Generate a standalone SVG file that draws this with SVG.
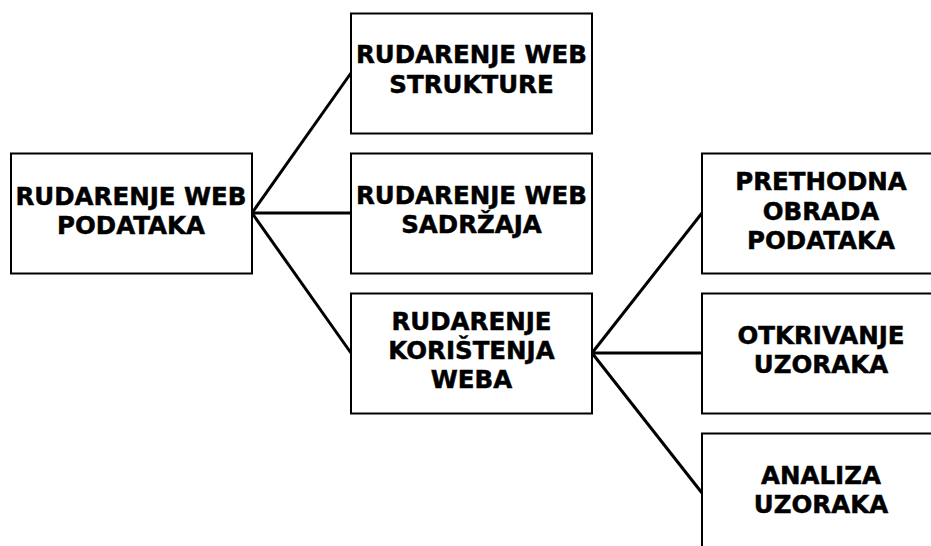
<svg xmlns="http://www.w3.org/2000/svg" width="931" height="546" viewBox="0 0 931 546">
<style>
.box{fill:#fff;stroke:#000;stroke-width:2}
.t{font-family:"DejaVu Sans",Verdana,sans-serif;font-weight:bold;font-size:24.5px;fill:#000;stroke:#000;stroke-width:0.5;text-anchor:middle}
.c{stroke:#000;stroke-width:3;fill:none}
</style>
<rect width="931" height="546" fill="#fff"/>
<g id="connectors">
<line class="c" x1="252" y1="213" x2="351" y2="73"/>
<line class="c" x1="252" y1="213" x2="351" y2="213"/>
<line class="c" x1="252" y1="213" x2="351" y2="353"/>
<line class="c" x1="592" y1="353" x2="702" y2="213"/>
<line class="c" x1="592" y1="353" x2="702" y2="353"/>
<line class="c" x1="592" y1="353" x2="702" y2="493"/>
</g>
<g id="n1">
<rect class="box" x="11" y="153.5" width="241" height="120"/>
<text class="t" x="131" y="205">RUDARENJE WEB</text>
<text class="t" x="131" y="234">PODATAKA</text>
</g>
<g id="n2">
<rect class="box" x="351" y="13.5" width="241" height="120"/>
<text class="t" x="471.5" y="63">RUDARENJE WEB</text>
<text class="t" x="471.5" y="93">STRUKTURE</text>
</g>
<g id="n3">
<rect class="box" x="351" y="153.5" width="241" height="120"/>
<text class="t" x="471.5" y="204">RUDARENJE WEB</text>
<text class="t" x="471.5" y="233">SADRŽAJA</text>
</g>
<g id="n4">
<rect class="box" x="351" y="293.5" width="241" height="120"/>
<text class="t" x="471.5" y="330">RUDARENJE</text>
<text class="t" x="471.5" y="359">KORIŠTENJA</text>
<text class="t" x="471.5" y="388">WEBA</text>
</g>
<g id="n5">
<rect class="box" x="702" y="153.5" width="241" height="120"/>
<text class="t" x="821" y="190">PRETHODNA</text>
<text class="t" x="821" y="220">OBRADA</text>
<text class="t" x="821" y="249">PODATAKA</text>
</g>
<g id="n6">
<rect class="box" x="702" y="293.5" width="241" height="120"/>
<text class="t" x="821" y="344">OTKRIVANJE</text>
<text class="t" x="821" y="373">UZORAKA</text>
</g>
<g id="n7">
<rect class="box" x="702" y="433.5" width="241" height="120"/>
<text class="t" x="821" y="484">ANALIZA</text>
<text class="t" x="821" y="513">UZORAKA</text>
</g>
</svg>
